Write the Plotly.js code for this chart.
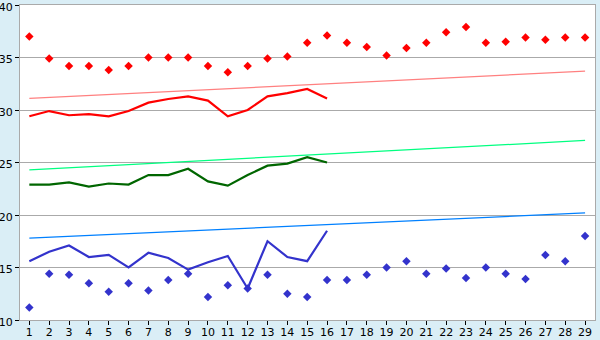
<!DOCTYPE html>
<html>
<head>
<meta charset="utf-8">
<script src="https://cdn.plot.ly/plotly-3.0.1.min.js"></script>
<style>html,body{margin:0;padding:0;background:#daeef6;}#chart{width:600px;height:340px;}</style>
</head>
<body>
<div id="chart"></div>
<script>
var days = [];
for (var i = 1; i <= 29; i++) days.push(i);
var lineDays = days.slice(0, 16);

var redDots = [37.0, 34.9, 34.2, 34.2, 33.8, 34.2, 35.0, 35.0, 35.0, 34.2, 33.6, 34.2, 34.9, 35.1, 36.4,
               37.1, 36.4, 36.0, 35.2, 35.9, 36.4, 37.4, 37.9, 36.4, 36.5, 36.9, 36.7, 36.9, 36.9];
var blueDots = [11.2, 14.4, 14.3, 13.5, 12.7, 13.5, 12.8, 13.8, 14.4, 12.2, 13.3, 13.0, 14.3, 12.5, 12.2,
                13.8, 13.8, 14.3, 15.0, 15.6, 14.4, 14.9, 14.0, 15.0, 14.4, 13.9, 16.2, 15.6, 18.0];
var redLine = [29.4, 29.9, 29.5, 29.6, 29.4, 29.9, 30.7, 31.05, 31.3, 30.9, 29.4, 30.0, 31.3, 31.6, 32.0, 31.1];
var greenLine = [22.9, 22.9, 23.1, 22.7, 23.0, 22.9, 23.8, 23.8, 24.4, 23.2, 22.8, 23.8, 24.7, 24.9, 25.5, 25.0];
var blueLine = [15.6, 16.5, 17.1, 16.0, 16.2, 15.0, 16.4, 15.9, 14.8, 15.5, 16.1, 13.0, 17.5, 16.0, 15.6, 18.5];

var trendDays = [1, 29];
var redTrend = [31.1, 33.7];
var greenTrend = [24.3, 27.1];
var blueTrend = [17.8, 20.2];

var yTicks = [10, 15, 20, 25, 30, 35, 40];

var traces = [
  {x: trendDays, y: redTrend, mode: 'lines', line: {color: '#ff8080', width: 1.3}},
  {x: trendDays, y: greenTrend, mode: 'lines', line: {color: '#00ff80', width: 1.3}},
  {x: trendDays, y: blueTrend, mode: 'lines', line: {color: '#0080ff', width: 1.3}},
  {x: days, y: redDots, mode: 'markers', marker: {symbol: 'diamond', size: 6.5, color: '#ff0000'}},
  {x: days, y: blueDots, mode: 'markers', marker: {symbol: 'diamond', size: 6.5, color: '#3333cc'}},
  {x: lineDays, y: redLine, mode: 'lines', line: {color: '#ff0000', width: 2.2}},
  {x: lineDays, y: greenLine, mode: 'lines', line: {color: '#006600', width: 2.2}},
  {x: lineDays, y: blueLine, mode: 'lines', line: {color: '#3333cc', width: 2.2}}
];

var layout = {
  width: 600, height: 340,
  margin: {l: 20, r: 5, t: 5, b: 20, pad: 0},
  paper_bgcolor: '#daeef6',
  plot_bgcolor: '#ffffff',
  showlegend: false,
  font: {family: 'DejaVu Sans, Verdana, sans-serif', size: 11, color: '#000000'},
  xaxis: {
    range: [0.53, 29.5],
    tickmode: 'array', tickvals: days, ticktext: days.map(String),
    showgrid: false, zeroline: false,
    showline: true, linecolor: '#aaaaaa', linewidth: 1, mirror: true,
    ticks: 'outside', ticklen: 4, tickcolor: '#000000', tickwidth: 1,
    ticklabelstandoff: -2,
    tickfont: {size: 11}
  },
  yaxis: {
    range: [10, 40],
    tickmode: 'array', tickvals: yTicks, ticktext: yTicks.map(String),
    showgrid: true, gridcolor: '#aaaaaa', gridwidth: 1, zeroline: false,
    showline: true, linecolor: '#aaaaaa', linewidth: 1, mirror: true,
    ticks: 'outside', ticklen: 4, tickcolor: '#000000', tickwidth: 1,
    ticklabelshift: 2,
    tickfont: {size: 11}
  }
};

Plotly.newPlot('chart', traces, layout, {staticPlot: true, displayModeBar: false});
</script>
</body>
</html>
